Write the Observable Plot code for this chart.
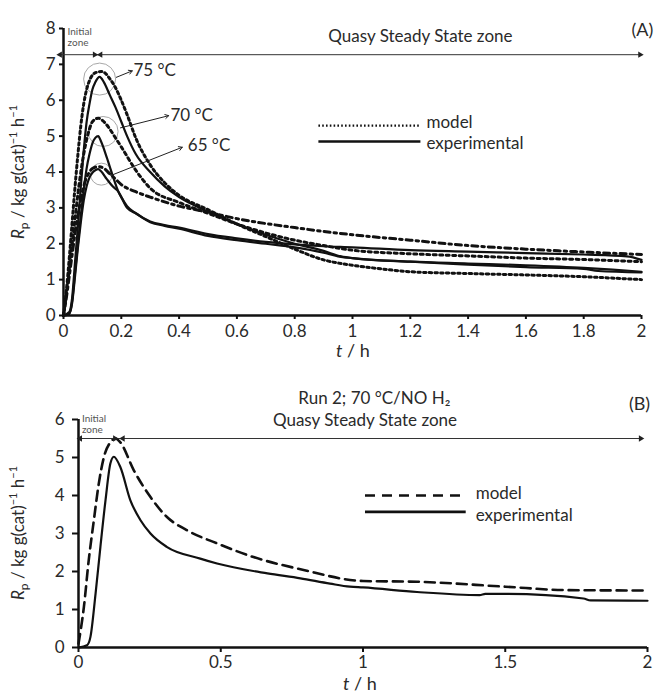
<!DOCTYPE html>
<html><head><meta charset="utf-8">
<script src="https://cdn.jsdelivr.net/npm/d3@7"></script>
<script src="https://cdn.jsdelivr.net/npm/@observablehq/plot@0.6"></script>
<style>
body{margin:0;background:#fff;}
#chart{position:relative;width:656px;height:696px;font-family:Lato,"Open Sans",sans-serif;}
#chart svg{display:block;overflow:visible;}
</style></head><body><div id="chart"></div>
<script>
// ---------- Panel A data (t / h, Rp) ----------
const exp65T = [0,0.02,0.03,0.04,0.05,0.06,0.07,0.08,0.09,0.1,0.11,0.12,0.13,0.15,0.17,0.19,0.2,0.22,0.25,0.3,0.35,0.4,0.5,0.6,0.7,0.8,0.9,1.0,1.2,1.4,1.6,1.8,1.95,2.0];
const exp65R = [0,0.05,0.35,1.1,1.9,2.6,3.2,3.6,3.85,3.98,4.05,4.08,4.02,3.8,3.6,3.45,3.3,3.05,2.85,2.62,2.52,2.45,2.27,2.15,2.05,1.98,1.93,1.9,1.82,1.78,1.74,1.7,1.65,1.55];
const exp70T = [0,0.02,0.03,0.04,0.05,0.06,0.07,0.08,0.09,0.1,0.11,0.12,0.13,0.15,0.17,0.19,0.2,0.22,0.25,0.3,0.35,0.4,0.5,0.6,0.7,0.8,0.9,0.95,1.0,1.2,1.4,1.6,1.8,1.85,2.0];
const exp70R = [0,0.05,0.4,1.2,2.0,2.8,3.5,4.1,4.5,4.8,4.95,5.0,4.85,4.4,3.9,3.45,3.3,3.0,2.85,2.6,2.5,2.42,2.22,2.1,2.0,1.9,1.75,1.65,1.6,1.5,1.42,1.35,1.3,1.24,1.2];
const exp75T = [0,0.02,0.03,0.04,0.05,0.06,0.07,0.08,0.09,0.1,0.11,0.125,0.14,0.16,0.18,0.2,0.22,0.25,0.3,0.35,0.4,0.5,0.6,0.7,0.8,0.9,0.96,1.0,1.2,1.4,1.6,1.8,1.9,2.0];
const exp75R = [0,0.1,0.5,1.5,2.5,3.6,4.6,5.4,5.9,6.3,6.5,6.65,6.5,6.15,5.8,5.4,5.0,4.5,4.0,3.6,3.3,2.9,2.55,2.25,2.0,1.8,1.65,1.6,1.5,1.45,1.4,1.33,1.28,1.22];
const mod65T = [0,0.01,0.02,0.03,0.04,0.05,0.06,0.07,0.08,0.09,0.1,0.12,0.14,0.16,0.18,0.2,0.25,0.3,0.4,0.5,0.6,0.8,1.0,1.2,1.4,1.6,1.8,2.0];
const mod65R = [0,0.5,1.1,1.7,2.3,2.8,3.25,3.6,3.85,4.0,4.1,4.15,4.1,3.95,3.8,3.65,3.45,3.3,3.05,2.88,2.7,2.45,2.25,2.1,1.95,1.85,1.77,1.7];
const mod70T = [0,0.01,0.02,0.03,0.04,0.05,0.06,0.07,0.08,0.09,0.1,0.12,0.14,0.16,0.18,0.2,0.25,0.3,0.4,0.5,0.6,0.7,0.8,0.9,1.0,1.2,1.4,1.6,1.8,2.0];
const mod70R = [0,0.6,1.3,2.0,2.7,3.4,4.0,4.5,4.9,5.2,5.4,5.5,5.4,5.2,4.95,4.7,4.05,3.55,3.15,2.85,2.55,2.3,2.1,1.95,1.82,1.72,1.66,1.6,1.56,1.5];
const mod75T = [0,0.01,0.02,0.03,0.04,0.05,0.06,0.07,0.08,0.09,0.1,0.115,0.13,0.145,0.16,0.18,0.2,0.22,0.25,0.3,0.35,0.4,0.5,0.6,0.7,0.8,0.9,1.0,1.1,1.2,1.4,1.6,1.8,2.0];
const mod75R = [0,0.7,1.6,2.6,3.6,4.5,5.3,5.9,6.3,6.55,6.7,6.78,6.8,6.75,6.6,6.35,6.0,5.6,4.95,4.2,3.7,3.35,2.95,2.55,2.2,1.85,1.55,1.4,1.3,1.22,1.17,1.13,1.08,1.0];

const topXTicks = [0,0.2,0.4,0.6,0.8,1,1.2,1.4,1.6,1.8,2];
const topYTicks = [0,1,2,3,4,5,6,7,8];
const tempLabels = ["75 °C","70 °C","65 °C"];
// peak circle centres (t, Rp), arrow from/to, label anchor
const peakT = [0.125,0.137,0.131];
const peakR = [6.59,5.13,3.94];
const arrowT1 = [0.183,0.197,0.163], arrowR1 = [6.64,5.23,3.9];
const arrowT2 = [0.238,0.364,0.411], arrowR2 = [6.82,5.57,4.69];
const labelT = [0.242,0.37,0.43], labelR = [6.82,5.57,4.73];

// ---------- Panel B data ----------
const bModT = [0,0.019,0.036,0.054,0.071,0.089,0.112,0.13,0.147,0.194,0.253,0.31,0.38,0.487,0.615,0.78,1.0,1.19,1.5,1.715,2.0];
const bModR = [0.1,1.07,2.3,3.35,4.3,5.0,5.4,5.5,5.4,4.67,3.96,3.44,3.09,2.74,2.38,2.06,1.75,1.73,1.6,1.51,1.5];
const bExpT = [0,0.03,0.042,0.06,0.077,0.095,0.112,0.124,0.147,0.182,0.218,0.253,0.31,0.428,0.487,0.664,0.78,0.884,0.954,1.0,1.19,1.41,1.43,1.5,1.775,1.8,2.0];
const bExpR = [0,0.06,0.28,1.42,2.65,3.88,4.84,5.02,4.75,3.88,3.35,3.0,2.65,2.34,2.21,1.95,1.82,1.68,1.6,1.58,1.46,1.38,1.41,1.41,1.29,1.24,1.23];
const botXTicks = [0,0.5,1,1.5,2];
const botYTicks = [0,1,2,3,4,5,6];

const zip = (T, R) => T.map((t, i) => ({t, R: R[i]}));
const fmt = d => String(+d.toFixed(1));
const INK = "#111", TXT = "#2a2a2a";
const FONT = "Lato, 'Open Sans', sans-serif";

function yLabel(svg, cx, cy) {
  const t = d3.select(svg).append("text")
    .attr("transform", `translate(${cx},${cy}) rotate(-90)`)
    .attr("text-anchor", "middle").attr("font-size", 17).attr("fill", TXT)
    .attr("font-family", FONT);
  t.append("tspan").attr("font-style", "italic").text("R");
  t.append("tspan").attr("font-size", 12).attr("dy", 4).text("p");
  t.append("tspan").attr("dy", -4).text(" / kg g(cat)");
  t.append("tspan").attr("font-size", 11).attr("dy", -7).text("−1");
  t.append("tspan").attr("dy", 7).text(" h");
  t.append("tspan").attr("font-size", 11).attr("dy", -7).text("−1");
}
function xLabel(svg, cx, cy) {
  const t = d3.select(svg).append("text")
    .attr("x", cx).attr("y", cy).attr("text-anchor", "middle")
    .attr("font-size", 18).attr("fill", TXT).attr("font-family", FONT);
  t.append("tspan").attr("font-style", "italic").text("t");
  t.append("tspan").text(" / h");
}

// ---------- Panel A ----------
const lineOpts = {x: "t", y: "R", stroke: INK, curve: "monotone-x"};
const topPlot = Plot.plot({
  width: 656, height: 360,
  marginLeft: 63, marginRight: 15, marginTop: 28, marginBottom: 45,
  style: {fontFamily: FONT, fontSize: "17px", color: TXT, overflow: "visible", background: "#fff"},
  x: {domain: [0, 2]}, y: {domain: [0, 8]}, r: {type: "identity"},
  marks: [
    Plot.axisX({ticks: topXTicks, tickSize: 4, tickPadding: 5, tickFormat: fmt, label: null, strokeWidth: 2, fontSize: 17, stroke: INK}),
    Plot.axisY({ticks: topYTicks, tickSize: 4, tickPadding: 4, tickFormat: fmt, label: null, strokeWidth: 2, fontSize: 17, stroke: INK}),
    // peak circles
    Plot.dot([0,1,2], {x: i => peakT[i], y: i => peakR[i], r: i => [16,15,11][i], stroke: "#a8a8a8", strokeWidth: 1, fill: "none"}),
    // model curves
    Plot.line(zip(mod75T, mod75R), {...lineOpts, strokeWidth: 3, strokeDasharray: "2.5,3.2"}),
    Plot.line(zip(mod70T, mod70R), {...lineOpts, strokeWidth: 3, strokeDasharray: "3,3.5"}),
    Plot.line(zip(mod65T, mod65R), {...lineOpts, strokeWidth: 3, strokeDasharray: "6,4,2.5,4"}),
    // experimental curves
    Plot.line(zip(exp65T, exp65R), {...lineOpts, strokeWidth: 2.2}),
    Plot.line(zip(exp70T, exp70R), {...lineOpts, strokeWidth: 2.2}),
    Plot.line(zip(exp75T, exp75R), {...lineOpts, strokeWidth: 2.2}),
    // axis lines
    Plot.ruleY([0], {stroke: INK, strokeWidth: 2.5}),
    Plot.ruleX([0], {stroke: INK, strokeWidth: 2.5}),
    // zone line
    Plot.ruleY([7.27], {x1: -0.017, x2: 2.0, stroke: "#333", strokeWidth: 1}),
    Plot.dot([{t: -0.012, d: -90}, {t: 0.108, d: 90}, {t: 0.128, d: -90}, {t: 1.995, d: 90}],
      {x: "t", y: () => 7.27, symbol: "triangle2", r: 3, fill: "#222", rotate: "d"}),
    Plot.text(["Initial\nzone"], {x: 0.014, y: 7.77, text: d => d, textAnchor: "start", fontSize: 10, lineHeight: 1.1, fill: "#555"}),
    Plot.text(["Quasy Steady State zone"], {x: 1.235, y: 7.77, text: d => d, fontSize: 17, fill: TXT}),
    Plot.text(["(A)"], {x: 2.003, y: 7.94, text: d => d, fontSize: 18, fill: TXT}),
    // temperature arrows & labels
    Plot.arrow([0,1,2], {x1: i => arrowT1[i], y1: i => arrowR1[i], x2: i => arrowT2[i], y2: i => arrowR2[i], stroke: "#222", strokeWidth: 1, headLength: 6}),
    Plot.text([0,1,2], {x: i => labelT[i], y: i => labelR[i], text: i => tempLabels[i], textAnchor: "start", fontSize: 17, fill: TXT}),
    // legend
    Plot.link([0], {x1: 0.882, x2: 1.235, y1: 5.29, y2: 5.29, stroke: INK, strokeWidth: 2.2, strokeDasharray: "1.6,2.2"}),
    Plot.link([0], {x1: 0.882, x2: 1.235, y1: 4.85, y2: 4.85, stroke: INK, strokeWidth: 2.6}),
    Plot.text(["model", "experimental"], {x: 1.256, y: (d, i) => [5.38, 4.79][i], text: d => d, textAnchor: "start", fontSize: 17, fill: TXT})
  ]
});
yLabel(topPlot, 24, 172);
xLabel(topPlot, 353, 357);

// ---------- Panel B ----------
const botPlot = Plot.plot({
  width: 656, height: 336,
  marginLeft: 78, marginRight: 9, marginTop: 59, marginBottom: 49,
  style: {fontFamily: FONT, fontSize: "17px", color: TXT, overflow: "visible", background: "#fff"},
  x: {domain: [0, 2]}, y: {domain: [0, 6]},
  marks: [
    Plot.axisX({ticks: botXTicks, tickSize: 5, tickPadding: 3, tickFormat: fmt, label: null, strokeWidth: 2, fontSize: 17, stroke: INK}),
    Plot.axisY({ticks: botYTicks, tickSize: 6, tickPadding: 8, tickFormat: fmt, label: null, strokeWidth: 2, fontSize: 17, stroke: INK}),
    Plot.line(zip(bModT, bModR), {...lineOpts, strokeWidth: 2.6, strokeDasharray: "10,6"}),
    Plot.line(zip(bExpT, bExpR), {...lineOpts, strokeWidth: 2.2}),
    Plot.ruleY([0], {stroke: INK, strokeWidth: 2.5}),
    Plot.ruleX([0], {stroke: INK, strokeWidth: 2.5}),
    Plot.ruleY([5.5], {x1: 0, x2: 1.98, stroke: "#333", strokeWidth: 1}),
    Plot.dot([{t: 0.006, d: -90}, {t: 0.128, d: 90}, {t: 0.156, d: -90}, {t: 1.976, d: 90}],
      {x: "t", y: () => 5.5, symbol: "triangle2", r: 3, fill: "#222", rotate: "d"}),
    Plot.text(["Initial\nzone"], {x: 0.012, y: 5.88, text: d => d, textAnchor: "start", fontSize: 10, lineHeight: 1.1, fill: "#555"}),
    Plot.text(["Run 2; 70 °C/NO H₂"], {x: 1.04, y: 6.56, text: d => d, fontSize: 17, fill: TXT}),
    Plot.text(["Quasy Steady State zone"], {x: 1.007, y: 5.96, text: d => d, fontSize: 17, fill: TXT}),
    Plot.text(["(B)"], {x: 1.972, y: 6.4, text: d => d, fontSize: 18, fill: TXT}),
    Plot.link([0], {x1: 1.007, x2: 1.361, y1: 4.0, y2: 4.0, stroke: INK, strokeWidth: 2.6, strokeDasharray: "10,7"}),
    Plot.link([0], {x1: 1.007, x2: 1.361, y1: 3.57, y2: 3.57, stroke: INK, strokeWidth: 2.6}),
    Plot.text(["model", "experimental"], {x: 1.396, y: (d, i) => [4.06, 3.48][i], text: d => d, textAnchor: "start", fontSize: 17, fill: TXT})
  ]
});
yLabel(botPlot, 24, 173);
xLabel(botPlot, 360, 330);

const chart = document.getElementById("chart");
chart.appendChild(topPlot);
chart.appendChild(botPlot);
</script></body></html>
